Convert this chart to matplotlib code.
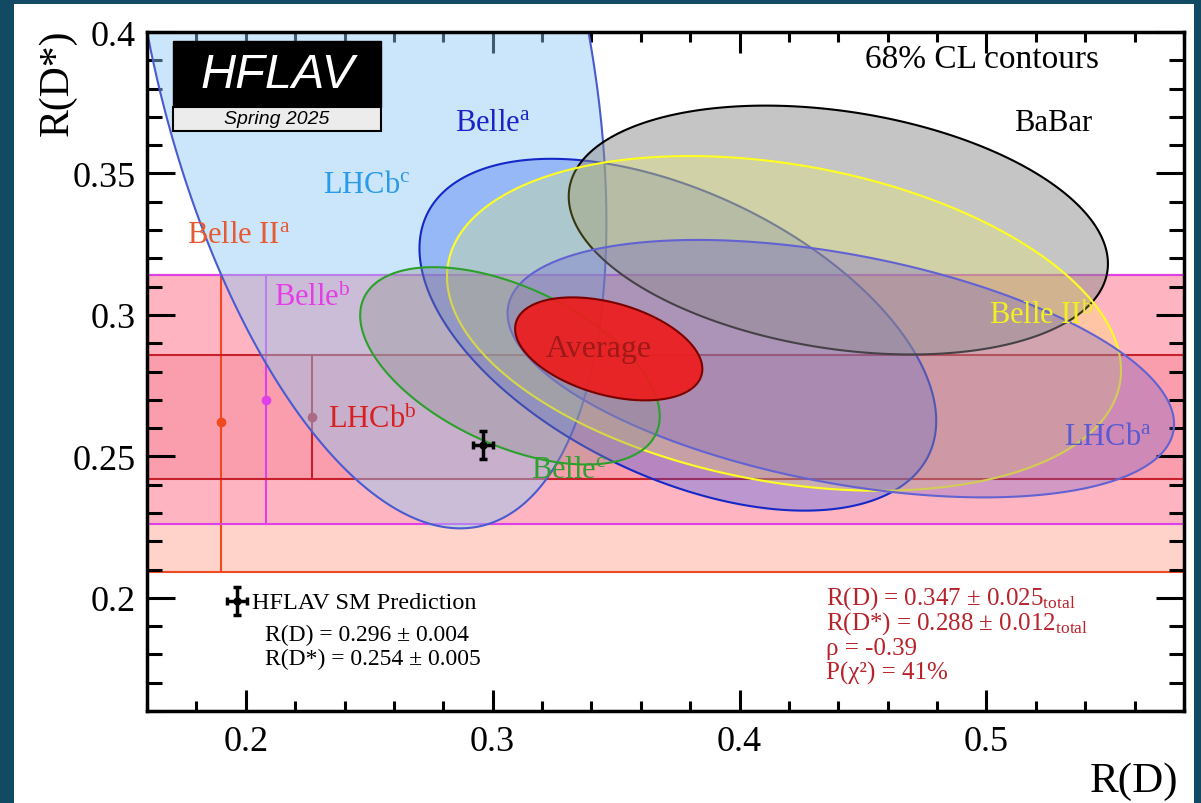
import numpy as np
import matplotlib
matplotlib.use('Agg')
import matplotlib.pyplot as plt
from matplotlib.patches import Rectangle
from matplotlib.colors import to_rgba
from matplotlib.ticker import MultipleLocator, FormatStrFormatter

plt.rcParams['font.family'] = ['Liberation Serif', 'DejaVu Serif']
plt.rcParams['mathtext.fontset'] = 'custom'
plt.rcParams['mathtext.rm'] = 'Liberation Serif'
plt.rcParams['mathtext.it'] = 'Liberation Serif:italic'
plt.rcParams['mathtext.bf'] = 'Liberation Serif:bold'

# 2D measurements: R(D), R(D*), total errors and correlation
meas_names = ['LHCb$^{\\rm c}$', 'Belle$^{\\rm a}$', 'BaBar', 'Belle II$^{\\rm b}$',
              'LHCb$^{\\rm a}$', 'Belle$^{\\rm c}$']
meas_rd = [0.249, 0.375, 0.440, 0.418, 0.441, 0.307]
meas_rd_err = [0.064, 0.069, 0.072, 0.090, 0.089, 0.040]
meas_rds = [0.402, 0.293, 0.330, 0.297, 0.281, 0.282]
meas_rds_err = [0.117, 0.041, 0.029, 0.039, 0.030, 0.023]
meas_rho = [-0.39, -0.49, -0.27, -0.28, -0.43, -0.51]

# R(D*)-only measurements
band_names = ['Belle II$^{\\rm a}$', 'Belle$^{\\rm b}$', 'LHCb$^{\\rm b}$']
band_rds = [0.262, 0.270, 0.264]
band_err_lo = [0.053, 0.044, 0.022]
band_err_hi = [0.052, 0.044, 0.022]

# world average and SM prediction
avg_rd, avg_rd_err = 0.347, 0.025
avg_rds, avg_rds_err = 0.288, 0.012
avg_rho = -0.39
chi2_prob = 41

sm_rd, sm_rd_err = 0.296, 0.004
sm_rds, sm_rds_err = 0.254, 0.005

# styles (face colour, alpha, edge colour, label colour, label position)
meas_style = [
    ('#8cc8f5', 0.45, '#4a5ad0', '#2a9be6', (0.249, 0.346)),
    ('#1e50f0', 0.30, '#1428c8', '#1a22c8', (0.300, 0.368)),
    ('#8c8c8c', 0.50, '#000000', '#000000', (0.527, 0.368)),
    ('#ffff40', 0.22, '#ffff20', '#f2f020', (0.522, 0.300)),
    ('#6a5acd', 0.30, '#6262d2', '#5a5ad2', (0.549, 0.257)),
    ('#909090', 0.35, '#2ca02c', '#30a030', (0.331, 0.2455)),
]
band_style = [
    ('#ff7050', 0.30, '#f04a20', '#e65a32', 0.190, (0.197, 0.3286)),
    ('#ff40a0', 0.20, '#e040e8', '#e63ce6', 0.208, (0.227, 0.3063)),
    ('#e02040', 0.15, '#c8202a', '#d82020', 0.227, (0.2513, 0.2632)),
]


def ellipse(mx, sx, my, sy, rho, dchi2=2.30, n=400):
    t = np.linspace(0, 2 * np.pi, n)
    cov = np.array([[sx ** 2, rho * sx * sy], [rho * sx * sy, sy ** 2]])
    L = np.linalg.cholesky(cov)
    pts = np.sqrt(dchi2) * L @ np.vstack([np.cos(t), np.sin(t)])
    return mx + pts[0], my + pts[1]


fig = plt.figure(figsize=(12.01, 8.04), dpi=100)
fig.patch.set_facecolor('#134a63')
fig.add_artist(Rectangle((14 / 1201, 0), 1180 / 1201, 1 - 5 / 804, transform=fig.transFigure,
                         facecolor='white', edgecolor='none', zorder=-10))
ax = fig.add_axes([147 / 1201, 92 / 804, 1037 / 1201, 679 / 804])
ax.set_facecolor('white')

# horizontal bands
for i in range(len(band_names)):
    fc, a, ec, lc, xpos, lpos = band_style[i]
    lo = band_rds[i] - band_err_lo[i]
    hi = band_rds[i] + band_err_hi[i]
    ax.axhspan(lo, hi, facecolor=to_rgba(fc, a), edgecolor='none', zorder=1)
    ax.axhline(lo, color=ec, lw=1.5, zorder=1.2)
    ax.axhline(hi, color=ec, lw=1.5, zorder=1.2)
    ax.plot([xpos, xpos], [lo, hi], color=ec, lw=1.5, zorder=1.2)
    ax.plot(xpos, band_rds[i], 'o', ms=6, color=ec, zorder=1.3)
    ax.text(lpos[0], lpos[1], band_names[i], color=lc, fontsize=22, ha='center', va='center', zorder=6)

# 68% CL ellipses
for i in range(len(meas_names)):
    fc, a, ec, lc, lpos = meas_style[i]
    x, y = ellipse(meas_rd[i], meas_rd_err[i], meas_rds[i], meas_rds_err[i], meas_rho[i])
    ax.fill(x, y, facecolor=to_rgba(fc, a), edgecolor=ec, lw=1.5, zorder=2 + i * 0.1)
    ax.text(lpos[0], lpos[1], meas_names[i], color=lc, fontsize=22, ha='center', va='center', zorder=6)

x, y = ellipse(avg_rd, avg_rd_err, avg_rds, avg_rds_err, avg_rho)
ax.fill(x, y, facecolor=to_rgba('#ee1c1c', 0.92), edgecolor='#7a0000', lw=1.5, zorder=3)
ax.text(0.343, 0.288, 'Average', color='#a01818', fontsize=23, ha='center', va='center', zorder=6)

# SM prediction
ax.errorbar(sm_rd, sm_rds, xerr=sm_rd_err, yerr=sm_rds_err, fmt='o', ms=5, color='black',
            elinewidth=2.5, capsize=3, capthick=2.5, zorder=7)
ax.errorbar(0.1965, 0.199, xerr=sm_rd_err, yerr=sm_rds_err, fmt='o', ms=5, color='black',
            elinewidth=2.5, capsize=3, capthick=2.5, zorder=7, clip_on=False)
ax.text(0.2026, 0.1983, 'HFLAV SM Prediction', fontsize=17.5, ha='left', va='center')
ax.text(0.2079, 0.1872, 'R(D) = %.3f ± %.3f' % (sm_rd, sm_rd_err), fontsize=17, ha='left', va='center')
ax.text(0.2079, 0.1784, 'R(D*) = %.3f ± %.3f' % (sm_rds, sm_rds_err), fontsize=17, ha='left', va='center')

red = '#b8222a'
ax.text(0.435, 0.1978, 'R(D) = %.3f ± %.3f$_{\\rm total}$' % (avg_rd, avg_rd_err), color=red, fontsize=18, va='baseline')
ax.text(0.435, 0.1890, 'R(D*) = %.3f ± %.3f$_{\\rm total}$' % (avg_rds, avg_rds_err), color=red, fontsize=18, va='baseline')
ax.text(0.435, 0.1801, 'ρ = %.2f' % avg_rho, color=red, fontsize=18, va='baseline')
ax.text(0.435, 0.1713, 'P(χ²) = %d%%' % chi2_prob, color=red, fontsize=18, va='baseline')

ax.text(0.498, 0.3905, '68% CL contours', fontsize=24, ha='center', va='center')

# HFLAV logo
ax.add_patch(Rectangle((0.0251, 0.8895), 0.2006, 0.0972, transform=ax.transAxes,
                       facecolor='black', edgecolor='black', zorder=8))
ax.add_patch(Rectangle((0.0251, 0.8542), 0.2006, 0.0353, transform=ax.transAxes,
                       facecolor='#ececec', edgecolor='black', lw=1.5, zorder=8))
ax.text(0.1254, 0.938, 'HFLAV', transform=ax.transAxes, color='white', fontsize=35,
        family='Liberation Sans', style='italic', ha='center', va='center', zorder=9)
ax.text(0.1254, 0.8719, 'Spring 2025', transform=ax.transAxes, color='black', fontsize=14,
        family='Liberation Sans', style='italic', ha='center', va='center', zorder=9)

ax.set_xlim(0.16, 0.58)
ax.set_ylim(0.16, 0.4)
ax.xaxis.set_major_locator(MultipleLocator(0.1))
ax.xaxis.set_minor_locator(MultipleLocator(0.02))
ax.yaxis.set_major_locator(MultipleLocator(0.05))
ax.yaxis.set_minor_locator(MultipleLocator(0.01))
ax.xaxis.set_major_formatter(FormatStrFormatter('%g'))
ax.yaxis.set_major_formatter(FormatStrFormatter('%g'))
ax.tick_params(axis='x', which='major', direction='in', length=15, width=2.2, top=True, labelsize=26, pad=10)
ax.tick_params(axis='x', which='minor', direction='in', length=7, width=2.2, top=True)
ax.tick_params(axis='y', which='major', direction='in', length=20, width=2.2, right=True, labelsize=26, pad=8)
ax.tick_params(axis='y', which='minor', direction='in', length=11, width=2.2, right=True)
for s in ax.spines.values():
    s.set_linewidth(2.5)
    s.set_zorder(10)

fig.text(1178 / 1201, 1 - 782 / 804, 'R(D)', fontsize=31, ha='right', va='center')
fig.text(57 / 1201, 1 - 30 / 804, 'R(D*)', fontsize=30, rotation=90, ha='center', va='top')

fig.savefig('out.png', dpi=100, facecolor=fig.get_facecolor())
